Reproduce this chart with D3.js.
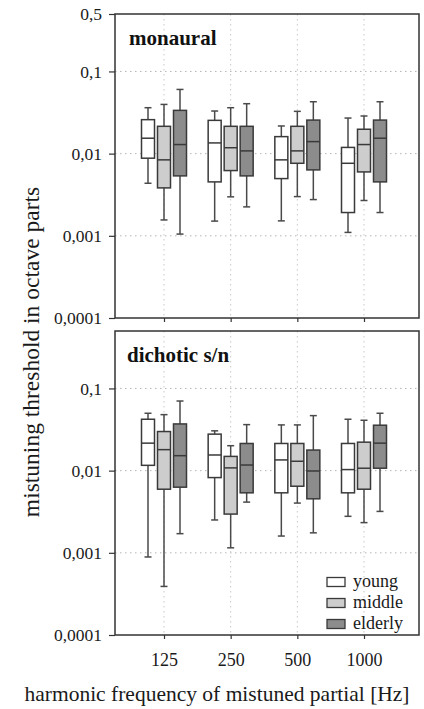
<!DOCTYPE html>
<html><head><meta charset="utf-8">
<script src="https://cdn.jsdelivr.net/npm/d3@7"></script>
<style>body{margin:0;background:#fff}svg{display:block}</style>
</head><body><svg id="c" width="424" height="709"></svg>
<script>
const frequencies = ["125","250","500","1000"];
const groups = ["young","middle","elderly"];
const groupColors = ["#ffffff","#cdcdcd","#8c8c8c"];
const yTickValues = [0.0001,0.001,0.01,0.1,0.5];
const yTickLabels = ["0,0001","0,001","0,01","0,1","0,5"];
const panelTitles = ["monaural","dichotic s/n"];
// [whiskerLow, q1, median, q3, whiskerHigh] per frequency, per group
const monaural = {
  young:   [[0.00436,0.0088,0.0154,0.0259,0.0362],[0.00151,0.00453,0.0135,0.0254,0.033],[0.00152,0.00497,0.0084,0.0161,0.0217],[0.0011,0.00192,0.00763,0.0119,0.0271]],
  middle:  [[0.00156,0.00383,0.0084,0.0215,0.0397],[0.00298,0.00622,0.0118,0.0215,0.0362],[0.0030,0.00763,0.0108,0.0215,0.0327],[0.00269,0.00599,0.0129,0.0198,0.0287]],
  elderly: [[0.00105,0.00536,0.0129,0.0336,0.0604],[0.00225,0.00536,0.0108,0.0215,0.0405],[0.00276,0.00634,0.0140,0.0256,0.0428],[0.00192,0.00453,0.0154,0.0256,0.0428]]
};
const dichotic = {
  young:   [[0.00089,0.0116,0.0216,0.0422,0.0499],[0.00251,0.00823,0.0155,0.0278,0.0305],[0.0016,0.00537,0.0135,0.0214,0.036],[0.00278,0.00537,0.0103,0.0214,0.0422]],
  middle:  [[0.00039,0.00594,0.0180,0.0299,0.048],[0.00115,0.00296,0.0108,0.0149,0.0201],[0.00403,0.00646,0.0130,0.0214,0.036],[0.00233,0.00594,0.0107,0.0222,0.041]],
  elderly: [[0.00171,0.00629,0.0152,0.0370,0.0703],[0.00414,0.00537,0.0117,0.0214,0.0363],[0.00175,0.00454,0.0099,0.0178,0.0467],[0.00319,0.0107,0.0216,0.0357,0.0499]]
};
const panelData = [monaural, dichotic];

const svg = d3.select("#c");
const font = "'Liberation Serif','Times New Roman',serif";
const left = 115, right = 419;
const panels = [{top:14,bottom:318},{top:331,bottom:635}];
const x = d3.scalePoint().domain(frequencies).range([left+49, right-55]);
const offset = d3.scalePoint().domain(groups).range([-16,16]);
const color = d3.scaleOrdinal().domain(groups).range(groupColors);
const boxW = 13, capW = 7;
const ink = "#3a3a3a";

panels.forEach((p, pi) => {
  const y = d3.scaleLog().domain([0.0001,0.5]).range([p.bottom,p.top]);
  const g = svg.append("g");
  // grid
  g.selectAll("line.hg").data([0.001,0.01,0.1]).join("line")
    .attr("x1",left).attr("x2",right).attr("y1",d=>y(d)).attr("y2",d=>y(d))
    .attr("stroke","#b5b5b5").attr("stroke-width",1).attr("stroke-dasharray","1.5,3.5");
  g.selectAll("line.vg").data(frequencies).join("line")
    .attr("x1",d=>x(d)).attr("x2",d=>x(d)).attr("y1",p.top).attr("y2",p.bottom)
    .attr("stroke","#c8c8c8").attr("stroke-width",1).attr("stroke-dasharray","1.5,3.5");
  // boxes
  const data = panelData[pi];
  groups.forEach(gr => {
    data[gr].forEach((s, fi) => {
      const cx = x(frequencies[fi]) + offset(gr);
      const [lo,q1,med,q3,hi] = s;
      const bg = g.append("g");
      bg.append("line").attr("x1",cx).attr("x2",cx).attr("y1",y(hi)).attr("y2",y(lo))
        .attr("stroke","#4a4a4a").attr("stroke-width",1.5);
      bg.selectAll("line.cap").data([lo,hi]).join("line")
        .attr("x1",cx-capW/2).attr("x2",cx+capW/2).attr("y1",d=>y(d)).attr("y2",d=>y(d))
        .attr("stroke","#4a4a4a").attr("stroke-width",1.5);
      bg.append("rect").attr("x",cx-boxW/2).attr("width",boxW)
        .attr("y",y(q3)).attr("height",y(q1)-y(q3))
        .attr("fill",color(gr)).attr("stroke",ink).attr("stroke-width",1.5);
      bg.append("line").attr("x1",cx-boxW/2).attr("x2",cx+boxW/2).attr("y1",y(med)).attr("y2",y(med))
        .attr("stroke",ink).attr("stroke-width",1.5);
    });
  });
  // frame
  g.append("rect").attr("x",left).attr("y",p.top).attr("width",right-left).attr("height",p.bottom-p.top)
    .attr("fill","none").attr("stroke","#333").attr("stroke-width",1.5);
  // y axis
  const ticks = pi===0 ? yTickValues : yTickValues.slice(0,4);
  const yAxis = d3.axisLeft(y).tickValues(ticks).tickSize(6).tickPadding(7)
    .tickFormat(d => yTickLabels[yTickValues.indexOf(d)]);
  const ya = g.append("g").attr("transform",`translate(${left},0)`).call(yAxis);
  ya.select(".domain").remove();
  ya.selectAll("line").attr("stroke","#333").attr("stroke-width",1.2);
  ya.selectAll("text").attr("font-family",font).attr("font-size",17.5).attr("fill","#1a1a1a");
  // x ticks
  const xAxis = d3.axisBottom(x).tickSize(4).tickPadding(14).tickFormat(pi===1 ? (d=>d) : "");
  const xa = g.append("g").attr("transform",`translate(0,${p.bottom})`).call(xAxis);
  xa.select(".domain").remove();
  xa.selectAll("line").attr("stroke","#333").attr("stroke-width",1.2);
  xa.selectAll("text").attr("font-family",font).attr("font-size",18).attr("fill","#1a1a1a");
  // title
  g.append("text").attr("x",left+(pi===0?14:12)).attr("y",p.top+31).text(panelTitles[pi])
    .attr("font-family",font).attr("font-weight","bold").attr("font-size",21).attr("fill","#111");
});

// legend
const lg = svg.append("g");
groups.forEach((gr,i) => {
  const yy = 582 + i*21;
  lg.append("rect").attr("x",327).attr("y",yy-4.5).attr("width",18).attr("height",9)
    .attr("fill",color(gr)).attr("stroke",ink).attr("stroke-width",1.3);
  lg.append("text").attr("x",353).attr("y",yy).attr("dy","0.3em").text(gr)
    .attr("font-family",font).attr("font-size",18).attr("fill","#1a1a1a");
});

// axis titles
svg.append("text").attr("transform","translate(31,352) rotate(-90)").attr("text-anchor","middle")
  .attr("dy","0.35em").text("mistuning threshold in octave parts")
  .attr("font-family",font).attr("font-size",23.5).attr("fill","#1a1a1a");
svg.append("text").attr("x",217).attr("y",701).attr("text-anchor","middle")
  .text("harmonic frequency of mistuned partial [Hz]")
  .attr("font-family",font).attr("font-size",21.5).attr("fill","#1a1a1a");
</script></body></html>
